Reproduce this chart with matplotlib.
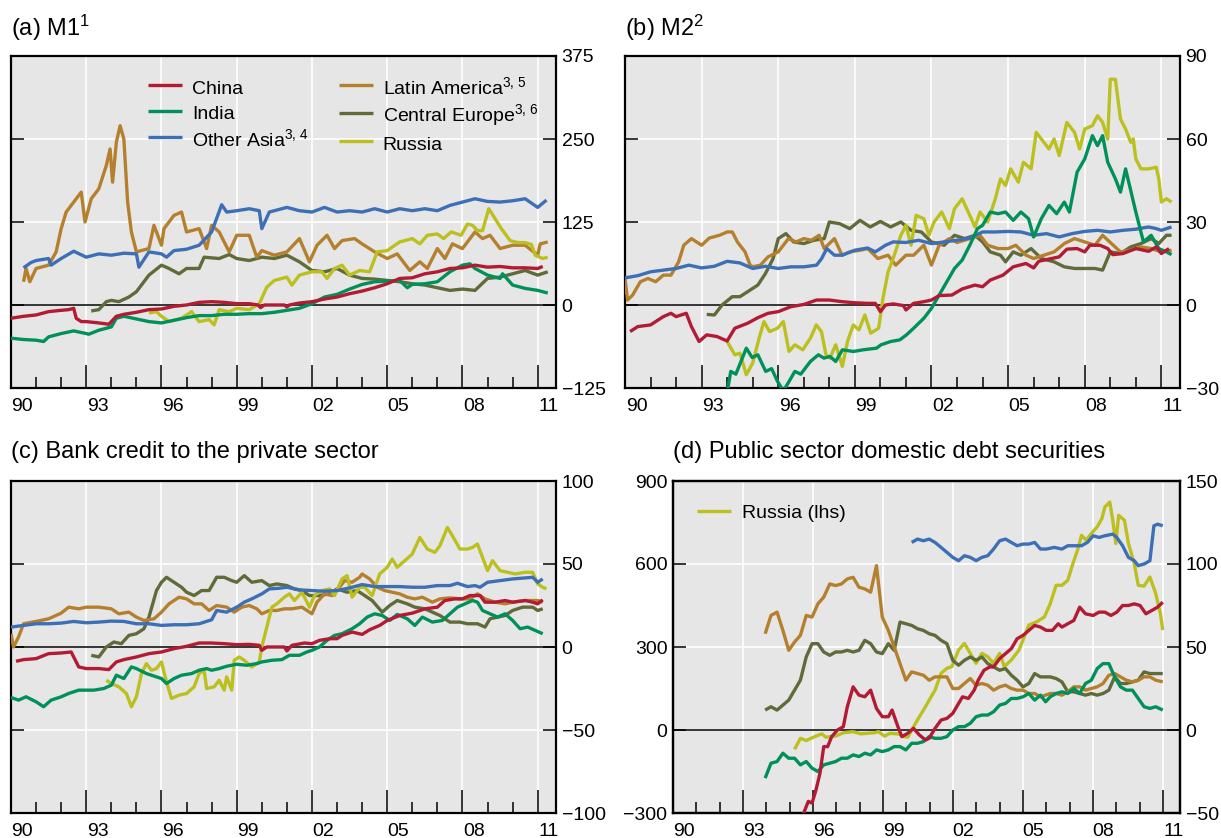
import matplotlib
matplotlib.use('Agg')
import matplotlib.pyplot as plt

plt.rcParams['font.family'] = ['Liberation Sans', 'DejaVu Sans']
plt.rcParams['mathtext.fontset'] = 'custom'
plt.rcParams['mathtext.rm'] = 'Liberation Sans'
plt.rcParams['mathtext.it'] = 'Liberation Sans:italic'
plt.rcParams['mathtext.bf'] = 'Liberation Sans:bold'

# ---------------- axis labels ----------------
x_labels = ['90', '93', '96', '99', '02', '05', '08', '11']
label_years = [1990, 1993, 1996, 1999, 2002, 2005, 2008, 2011]
major_years = [1993, 1996, 1999, 2002, 2005, 2008, 2011]
minor_years = list(range(1991, 2012))

# ---------------- (a) M1 ----------------
a_china_x = [1990.0,1990.5,1991.0,1991.5,1992.0,1992.3,1992.5,1992.6,1992.8,1993.0,
             1993.5,1993.9,1994.2,1994.5,1995.0,1995.5,1996.0,1996.5,1997.0,1997.5,
             1998.0,1998.5,1999.0,1999.5,1999.85,1999.95,2000.1,2000.5,2000.9,2001.0,
             2001.1,2001.5,2002.0,2002.5,2003.0,2003.5,2004.0,2004.5,2005.0,2005.5,
             2006.0,2006.5,2007.0,2007.5,2008.0,2008.5,2009.0,2009.5,2010.0,2010.5,
             2011.0,2011.2]
a_china_y = [-20,-17,-15,-10,-8,-7,-5,-20,-25,-25,
             -27,-29,-17,-14,-11,-7,-6,-2,0,4,
             5,4,2,2,0,-4,0,0,0,-3,
             0,3,5,9,12,17,21,26,32,40,
             41,47,50,55,56,60,57,58,56,56,
             55,58]
a_india_x = [1990.0,1990.5,1991.0,1991.3,1991.5,1992.0,1992.5,1993.0,1993.1,1993.5,
             1994.0,1994.2,1994.5,1995.0,1995.5,1996.0,1996.5,1997.0,1997.5,1998.0,
             1998.5,1999.0,1999.5,2000.0,2000.5,2001.0,2001.5,2002.0,2002.5,2003.0,
             2003.5,2004.0,2004.5,2005.0,2005.5,2005.8,2006.0,2006.5,2007.0,2007.5,
             2008.0,2008.3,2008.5,2009.0,2009.5,2009.6,2010.0,2010.5,2011.0,2011.4]
a_india_y = [-50,-52,-53,-55,-48,-43,-39,-43,-44,-38,
             -33,-20,-17,-21,-25,-27,-23,-19,-16,-16,
             -14,-14,-13,-13,-11,-8,-5,2,12,16,
             24,31,35,36,37,26,31,32,35,50,
             60,62,55,45,40,47,30,25,22,18]
a_asia_x = [1990.5,1990.8,1991.0,1991.5,1991.6,1992.0,1992.5,1993.0,1993.5,1994.0,
            1994.5,1995.0,1995.1,1995.5,1996.0,1996.2,1996.5,1997.0,1997.5,1998.0,
            1998.4,1998.6,1999.0,1999.5,1999.9,2000.0,2000.3,2001.0,2001.5,2002.0,
            2002.5,2003.0,2003.5,2004.0,2004.5,2005.0,2005.5,2006.0,2006.5,2007.0,
            2007.5,2008.0,2008.5,2009.0,2009.5,2010.0,2010.5,2011.0,2011.35]
a_asia_y = [56,64,67,70,60,70,81,72,77,75,
            78,77,57,80,77,72,82,84,90,110,
            151,140,142,145,142,115,140,147,142,140,
            147,140,142,140,145,140,145,142,145,142,
            150,155,160,156,155,157,160,147,158]
a_latam_x = [1990.5,1990.6,1990.75,1991.0,1991.5,1991.8,1992.0,1992.2,1992.5,1992.8,
             1992.95,1993.2,1993.5,1993.8,1993.95,1994.05,1994.2,1994.35,1994.5,1994.65,
             1994.8,1995.0,1995.5,1995.7,1996.0,1996.1,1996.5,1996.8,1997.0,1997.5,
             1997.8,1998.0,1998.3,1998.7,1999.0,1999.5,1999.8,2000.0,2000.5,2001.0,
             2001.5,2001.9,2002.2,2002.6,2002.9,2003.2,2003.7,2004.0,2004.5,2005.0,
             2005.4,2005.9,2006.3,2006.6,2007.0,2007.3,2007.6,2008.0,2008.5,2008.8,
             2009.1,2009.5,2010.0,2010.5,2011.0,2011.1,2011.4]
a_latam_y = [35,55,35,55,60,80,115,140,155,170,
             125,160,175,210,235,185,245,270,250,155,
             110,80,85,120,90,115,135,140,110,115,
             85,120,110,80,105,105,72,82,75,80,
             100,65,90,105,85,97,100,92,80,70,
             77,52,65,55,85,70,92,85,110,100,
             105,85,90,90,75,92,95]
a_ceur_x = [1993.2,1993.5,1993.8,1994.0,1994.3,1994.7,1995.0,1995.5,1996.0,1996.3,
            1996.7,1997.0,1997.5,1997.7,1998.3,1998.7,1999.0,1999.5,2000.0,2000.5,
            2001.0,2001.5,2002.0,2002.5,2003.0,2003.5,2004.0,2004.5,2005.0,2005.5,
            2006.0,2006.5,2007.0,2007.5,2008.0,2008.5,2009.0,2009.5,2010.0,2010.5,
            2011.0,2011.4]
a_ceur_y = [-9,-7,5,7,5,12,20,45,60,55,
            47,55,55,72,70,76,70,67,72,70,
            75,65,52,50,55,45,40,39,37,35,
            32,30,26,22,24,22,40,42,47,52,
            45,50]
a_russia_x = [1995.5,1995.8,1996.0,1996.3,1996.8,1997.2,1997.5,1997.9,1998.1,1998.3,
              1998.7,1999.0,1999.5,1999.9,2000.2,2000.5,2001.0,2001.2,2001.5,2002.0,
              2002.4,2002.6,2002.9,2003.2,2003.5,2003.9,2004.3,2004.6,2005.0,2005.5,
              2006.0,2006.3,2006.6,2007.0,2007.25,2007.55,2007.95,2008.2,2008.4,2008.6,
              2008.8,2009.05,2009.3,2009.55,2009.9,2010.2,2010.5,2010.75,2010.9,2011.2,
              2011.4]
a_russia_y = [-12,-10,-17,-25,-20,-10,-25,-22,-30,-7,
              -10,-5,-7,2,27,37,42,30,45,50,
              50,40,55,60,45,52,50,80,82,95,
              100,92,105,107,100,110,105,122,120,112,
              112,145,130,115,97,94,94,91,75,70,
              72]

# ---------------- (b) M2 ----------------
b_china_x = [1990.2,1990.5,1991.0,1991.5,1991.8,1992.0,1992.4,1992.6,1992.9,1993.2,
             1993.6,1994.0,1994.3,1994.8,1995.2,1995.6,1996.0,1996.5,1997.0,1997.5,
             1998.0,1998.5,1999.0,1999.5,1999.8,2000.0,2000.2,2000.5,2000.9,2001.0,
             2001.3,2001.7,2002.0,2002.3,2002.8,2003.2,2003.7,2004.0,2004.3,2004.8,
             2005.2,2005.7,2006.0,2006.2,2006.7,2007.0,2007.3,2007.7,2008.0,2008.2,
             2008.6,2008.9,2009.1,2009.5,2010.0,2010.5,2010.8,2011.0,2011.3]
b_china_y = [-9.6,-7.8,-7.2,-4.2,-3,-4.2,-3,-7.8,-13.2,-10.8,
             -11.4,-13,-8.4,-6.6,-4.6,-3,-2.4,-0.6,0.2,1.8,
             1.8,1.2,0.8,0.6,0.6,-2.4,0,0.4,-0.2,-1.8,
             0.6,1.2,1.8,3.4,3.6,5.8,7.2,6.6,9,10.8,
             13.8,15,13.4,15.8,16.8,17.4,20.2,20.4,19.2,21.6,
             21.6,20.4,18.2,18.6,20.4,19.4,21,18.6,20.4]
b_india_x = [1993.95,1994.03,1994.14,1994.34,1994.75,1994.98,1995.2,1995.51,1995.74,1995.97,
             1996.2,1996.35,1996.65,1996.88,1997.26,1997.57,1997.79,1998.02,1998.25,1998.51,
             1998.94,1999.32,1999.85,2000.02,2000.4,2000.76,2001.02,2001.3,2001.7,2002.0,
             2002.3,2002.6,2002.9,2003.2,2003.5,2003.8,2004.0,2004.3,2004.6,2004.9,
             2005.2,2005.5,2005.8,2006.0,2006.3,2006.6,2006.9,2007.2,2007.4,2007.7,
             2008.0,2008.3,2008.5,2008.7,2008.9,2009.2,2009.4,2009.6,2010.0,2010.3,
             2010.6,2010.9,2011.2,2011.4]
b_india_y = [-34,-30,-24,-25,-15.6,-19,-18,-24,-23,-27.6,
             -31,-28.8,-24,-25,-20.4,-18,-19.2,-18.6,-20.4,-16.2,
             -16.8,-16.2,-15.6,-14.4,-13.2,-12.6,-10.8,-8.4,-4.8,-1.2,
             3.6,8.4,13.2,16.2,21.6,27.6,28.8,33.6,33,33.6,
             30.6,33.6,31.2,24.6,31.2,36,33,37.2,33.6,48,
             52.8,61.2,57.6,61.2,51.6,45.6,40.8,49.2,33.6,22.8,
             25.2,20.4,19.2,18.2]
b_asia_x = [1990.0,1990.5,1991.0,1991.5,1992.0,1992.5,1993.0,1993.5,1994.0,1994.5,
            1995.0,1995.5,1996.0,1996.5,1997.0,1997.5,1997.7,1997.9,1998.2,1998.5,
            1999.0,1999.5,1999.8,2000.2,2000.5,2001.0,2001.5,2002.0,2002.5,2003.0,
            2003.5,2004.0,2004.5,2005.0,2005.5,2006.0,2006.5,2007.0,2007.5,2008.0,
            2008.5,2009.0,2009.5,2010.0,2010.5,2010.8,2011.0,2011.4]
b_asia_y = [9.8,10.6,12,12.6,13.2,14.4,13.4,14,15.8,15.2,
            13.2,14,13.2,13.8,13.8,14.4,16.8,20.4,18,18,
            19.8,20.6,19.2,21.6,22.8,22.6,23.4,22.2,22.8,23.4,
            24.2,26.4,26.4,26.6,26.4,25.2,25.8,24.6,25.8,26.6,
            27,26.4,27,27.4,28.2,27.6,27,28.2]
b_latam_x = [1990.0,1990.1,1990.3,1990.6,1990.9,1991.2,1991.5,1991.8,1992.1,1992.3,
             1992.6,1993.0,1993.3,1993.7,1994.0,1994.2,1994.4,1994.7,1994.9,1995.0,
             1995.3,1995.6,1996.0,1996.4,1996.7,1997.0,1997.3,1997.6,1997.8,1998.2,
             1998.5,1998.8,1999.2,1999.5,1999.9,2000.3,2000.6,2001.0,2001.3,2001.7,
             2002.0,2002.3,2002.7,2003.0,2003.5,2003.9,2004.2,2004.6,2005.0,2005.3,
             2005.7,2006.0,2006.4,2006.8,2007.2,2007.6,2008.0,2008.4,2008.7,2009.0,
             2009.4,2009.8,2010.2,2010.6,2011.0,2011.4]
b_latam_y = [9.6,1.8,3.6,8.4,9.6,8.4,10.8,10.8,15.6,21.6,
             24,21.6,24.2,25.2,26.4,26.4,22.8,19.2,14.4,13.8,
             14.4,17.4,19.2,24,22.8,24,23.4,25.2,20.4,24,
             18,19.2,19.8,20.4,16.8,18,14.4,18,18,21.6,
             14.4,21.6,24,22.6,24,25.2,21.6,20.4,20.4,21.6,
             18,16.8,18,19.2,22.2,24,22.8,21.6,25.2,22.6,
             19.2,19.8,21,20.4,19.2,19.8]
b_ceur_x = [1993.2,1993.5,1993.8,1994.2,1994.5,1994.8,1995.2,1995.5,1995.8,1996.0,
            1996.3,1996.6,1997.0,1997.4,1997.8,1998.0,1998.4,1998.8,1999.2,1999.6,
            2000.0,2000.4,2000.8,2001.2,2001.6,2002.0,2002.5,2002.9,2003.3,2003.7,
            2004.0,2004.3,2004.7,2004.9,2005.2,2005.5,2005.9,2006.3,2006.8,2007.2,
            2007.6,2008.0,2008.4,2008.7,2009.0,2009.4,2009.8,2010.2,2010.6,2010.9,
            2011.2,2011.4]
b_ceur_y = [-3.4,-3.6,0,3,3,4.8,7.2,11.4,16.8,24,
            25.8,22.8,22.2,23.4,24,30,29.4,27.6,30.6,28.2,
            30.2,28.2,30,27,26.4,22.8,21.6,25.2,24,25.2,
            22.8,19.2,18,15.6,19.2,18,20.4,16.8,15.6,13.8,
            13.2,13.2,13.2,12.6,19.2,18.6,21,22.2,24,22.2,
            25.2,25.2]
b_russia_x = [1994.0,1994.3,1994.5,1994.75,1995.0,1995.25,1995.44,1995.66,1995.97,1996.2,
              1996.42,1996.65,1996.96,1997.26,1997.49,1997.69,1997.87,1998.02,1998.25,1998.51,
              1998.71,1998.94,1999.16,1999.39,1999.62,1999.93,2000.1,2000.3,2000.5,2000.8,
              2001.0,2001.2,2001.4,2001.7,2001.9,2002.1,2002.4,2002.7,2002.9,2003.2,
              2003.5,2003.7,2003.9,2004.2,2004.5,2004.7,2004.9,2005.1,2005.4,2005.6,
              2005.9,2006.1,2006.3,2006.6,2006.8,2007.0,2007.3,2007.6,2007.8,2008.0,
              2008.3,2008.5,2008.7,2008.9,2009.0,2009.2,2009.4,2009.6,2009.8,2009.9,
              2010.0,2010.2,2010.5,2010.8,2010.9,2011.0,2011.2,2011.4]
b_russia_y = [-13.2,-18,-17.4,-25.2,-21,-12,-6,-9.6,-8.4,-6,
              -16.8,-14.4,-16.2,-12,-7.2,-9.6,-18,-19.2,-14.4,-22.2,
              -13.2,-7.2,-9,-3.6,-10.2,-8.4,2.4,12,16.8,25.2,
              28.8,21.6,32.4,31.2,25.2,30,33.6,27.6,34.8,38.4,
              32.4,28.2,33.6,30,38.4,45.6,43.2,49.2,44.4,51.6,
              49.2,62.4,60,56.4,60,54,66,62.4,56.4,63.6,
              64.8,68.4,66,60,81.6,81.6,67.2,63.6,58.8,60,
              52.8,49.2,49.2,49.8,45.6,37.2,38.4,37.2]

# ---------------- (c) Bank credit ----------------
c_china_x = [1990.2,1990.5,1991.0,1991.5,1992.0,1992.4,1992.7,1993.0,1993.5,1993.9,
             1994.2,1994.5,1995.0,1995.5,1996.0,1996.5,1997.0,1997.5,1998.0,1998.5,
             1999.0,1999.5,1999.9,2000.0,2000.2,2000.5,2000.9,2001.0,2001.2,2001.7,
             2002.0,2002.3,2002.7,2003.0,2003.2,2003.6,2004.0,2004.3,2004.7,2005.0,
             2005.5,2006.0,2006.5,2007.0,2007.3,2007.7,2008.0,2008.3,2008.7,2008.9,
             2009.3,2009.7,2010.0,2010.5,2010.8,2011.0,2011.2]
c_china_y = [-8.6,-7.6,-7,-4,-3.6,-3,-12,-13,-13,-13.6,
             -9,-7.6,-6,-4,-3,-1,0.4,2.4,2.4,2,
             1.4,1.6,1,-2,0,0,0,-2.4,1,2.4,
             2,4,5,5,7,9,7.6,10.4,13,16,
             19,20.4,23,24,28,29,29,31,31,27,
             27,28,27,28,27,26,28.4]
c_india_x = [1990.0,1990.3,1990.6,1991.0,1991.3,1991.6,1992.0,1992.3,1992.7,1993.0,
             1993.3,1993.7,1994.0,1994.2,1994.5,1994.8,1995.0,1995.4,1995.8,1996.0,
             1996.2,1996.5,1996.8,1997.2,1997.5,1997.8,1998.0,1998.3,1998.6,1999.0,
             1999.4,1999.8,2000.0,2000.4,2000.8,2001.1,2001.5,2001.8,2002.0,2002.3,
             2002.6,2002.9,2003.2,2003.6,2003.9,2004.2,2004.5,2004.8,2005.1,2005.4,
             2005.8,2006.1,2006.4,2006.8,2007.2,2007.5,2007.8,2008.1,2008.4,2008.6,
             2008.8,2009.1,2009.4,2009.7,2010.0,2010.3,2010.6,2010.9,2011.2]
c_india_y = [-30.4,-32,-30,-33,-36,-32,-30,-28,-26,-26,
             -26,-25,-23,-17,-19,-12,-13,-16,-18,-19,
             -22,-19,-17,-16,-14,-13,-14,-13,-11.6,-10.4,
             -11,-10,-9,-8,-7.6,-5,-5,-3,-2,0,
             4,7,8,11,14,18,20,19,16,19.6,
             17,13,18,15,16,20,24,26,28,27,
             22,20,18,20,16,11,12,10,8]
c_asia_x = [1990.0,1990.5,1991.0,1991.5,1992.0,1992.5,1993.0,1993.5,1994.0,1994.5,
            1995.0,1995.5,1996.0,1996.5,1997.0,1997.5,1998.0,1998.2,1998.6,1999.0,
            1999.3,1999.6,2000.0,2000.3,2000.7,2001.0,2001.5,2002.0,2002.5,2003.0,
            2003.5,2004.0,2004.5,2005.0,2005.5,2006.0,2006.5,2007.0,2007.5,2007.8,
            2008.2,2008.5,2008.7,2009.0,2009.5,2010.0,2010.5,2010.8,2011.0,2011.2]
c_asia_y = [12,13,14,14,14.4,15.4,14.6,15,15.6,15.4,
            14,14,13,13.4,13.4,14,16.4,22,21,24,
            27,29,32,35,35.4,36,34.4,34,33.6,34,
            35.6,37.6,36.4,36.4,36.4,36,36,37,37,38.4,
            36.4,37,36,39,40,41,41.6,42,39,41]
c_latam_x = [1990.0,1990.1,1990.3,1990.5,1991.0,1991.5,1992.0,1992.3,1992.7,1993.0,
             1993.5,1994.0,1994.3,1994.7,1995.0,1995.3,1995.7,1996.0,1996.3,1996.7,
             1997.0,1997.3,1997.6,1997.9,1998.2,1998.6,1998.9,1999.2,1999.5,1999.8,
             2000.0,2000.3,2000.6,2000.9,2001.2,2001.6,2002.0,2002.2,2002.5,2002.8,
             2003.0,2003.3,2003.6,2003.9,2004.0,2004.3,2004.6,2004.9,2005.2,2005.5,
             2005.8,2006.1,2006.4,2006.8,2007.1,2007.5,2007.9,2008.3,2008.6,2008.9,
             2009.3,2009.7,2010.0,2010.5,2011.0,2011.2]
c_latam_y = [8,0,6,14,15.4,17,20.4,24,23,24,
             24,23,20,21,18,16,17,21,26,30,
             29,26,26,22,25,24,21,24,25,23,
             20,22,22,23,23,24,20,27,32,31,
             34,40,39,42,44,41,36,34,33,32,
             30,29,30,27,29,29.6,29,29,32,29,
             27,26,27,28,28,27]
c_ceur_x = [1993.2,1993.5,1993.8,1994.1,1994.4,1994.7,1995.0,1995.3,1995.5,1995.8,
            1996.0,1996.2,1996.5,1996.8,1997.0,1997.3,1997.6,1997.9,1998.2,1998.5,
            1998.8,1999.0,1999.3,1999.6,2000.0,2000.3,2000.6,2001.0,2001.3,2001.6,
            2001.9,2002.3,2002.7,2003.0,2003.4,2003.8,2004.1,2004.4,2004.8,2005.1,
            2005.4,2005.8,2006.1,2006.5,2006.8,2007.1,2007.5,2007.9,2008.2,2008.6,
            2008.9,2009.1,2009.4,2009.7,2010.0,2010.4,2010.8,2011.0,2011.2]
c_ceur_y = [-5,-6,0,3,2,7,8,11,18,34,
            39,42,39,36,33,31,34,34,42,42,
            40,39,43,39,40,37,38,37,35,34,
            31,31,32,35,33,34,31,28,21,25,
            28,26,24,23,21,19,15,15,14,14,
            12,17,18,19,22,24,24,22,23]
c_russia_x = [1993.8,1994.0,1994.3,1994.6,1994.8,1995.0,1995.2,1995.4,1995.6,1995.8,
              1996.0,1996.2,1996.4,1996.7,1997.0,1997.3,1997.5,1997.7,1997.8,1998.1,
              1998.3,1998.5,1998.6,1998.8,1998.9,1999.1,1999.3,1999.6,1999.9,2000.0,
              2000.2,2000.4,2000.6,2000.9,2001.1,2001.3,2001.6,2001.9,2002.1,2002.4,
              2002.7,2002.9,2003.2,2003.4,2003.6,2003.9,2004.1,2004.4,2004.7,2005.0,
              2005.2,2005.4,2005.7,2006.0,2006.3,2006.6,2006.9,2007.1,2007.4,2007.6,
              2007.9,2008.2,2008.4,2008.6,2008.8,2009.0,2009.2,2009.5,2009.8,2010.1,
              2010.5,2010.8,2011.0,2011.2,2011.35]
c_russia_y = [-20,-22,-24,-28,-36,-30,-16,-10,-14,-13,
              -9,-21,-31,-29,-28,-24,-16,-14,-25,-24,
              -20,-26,-18,-26,-8,-6,-8,-12,-9,0,
              12,24,26,30,32,28,33,24,31,34,
              35,31,41,43,30,36,36,31,44,48,
              53,48,52,56,66,59,57,61,72,67,
              59,59,60,62,54,46,52,46,45,44,
              45,45,38,36,35]

# ---------------- (d) Public sector domestic debt securities ----------------
d_russia_x = [1995.21,1995.46,1995.71,1996.13,1996.38,1996.55,1996.97,1997.30,1997.72,1998.05,
              1998.31,1998.64,1998.81,1999.06,1999.31,1999.64,1999.90,2000.06,2000.31,2000.56,
              2000.82,2000.98,2001.23,2001.49,2001.74,2001.95,2002.24,2002.49,2002.74,2002.99,
              2003.24,2003.49,2003.74,2004.0,2004.2,2004.5,2004.83,2005.0,2005.25,2005.59,
              2005.92,2006.17,2006.42,2006.67,2006.92,2007.14,2007.34,2007.51,2007.71,2007.93,
              2008.18,2008.38,2008.51,2008.72,2008.85,2008.98,2009.10,2009.35,2009.52,2009.77,
              2009.94,2010.19,2010.44,2010.69,2010.89,2010.99]
d_russia_y = [-70,-30,-38,-22,-14,-26,-22,-10,-6,-14,
              -12,-10,-6,-22,-12,-14,-24,-26,12,48,
              84,108,144,205,223,229,289,313,277,241,
              277,265,241,277,229,253,289,325,379,391,
              409,457,523,523,541,602,650,704,686,710,
              734,764,806,824,758,674,776,758,674,602,
              523,520,553,493,421,361]
d_asia_x = [2000.23,2000.48,2000.73,2000.98,2001.23,2001.49,2001.74,2001.99,2002.24,
            2002.49,2002.74,2002.99,2003.24,2003.49,2003.74,2004.0,2004.25,2004.5,2004.75,
            2005.0,2005.25,2005.5,2005.75,2006.0,2006.34,2006.67,2006.92,2007.18,2007.51,
            2007.76,2008.01,2008.26,2008.51,2008.85,2009.02,2009.27,2009.52,2009.77,2009.94,
            2010.19,2010.44,2010.61,2010.77,2010.99]
d_asia_y = [113,115,114,115,113,110,107,104,102,
            105,104,102,104,105,109,114,115,113,111,
            112,112,113,109,109,110,109,111,111,111,
            113,117,116,117,118,116,111,104,102,99,
            100,102,123,124,123]
d_china_x = [1995.55,1995.63,1995.80,1995.96,1996.13,1996.30,1996.46,1996.63,1996.80,1997.05,1997.30,
             1997.47,1997.72,1997.97,1998.22,1998.47,1998.72,1998.97,1999.23,1999.39,1999.64,
             1999.81,2000.06,2000.31,2000.56,2000.82,2000.98,2001.23,2001.49,2001.74,2001.99,
             2002.24,2002.41,2002.66,2002.91,2003.08,2003.33,2003.58,2003.74,2004.0,2004.25,
             2004.5,2004.75,2005.0,2005.25,2005.5,2005.75,2006.0,2006.26,2006.51,2006.67,
             2006.92,2007.18,2007.43,2007.68,2008.01,2008.26,2008.51,2008.77,2009.02,2009.27,
             2009.52,2009.77,2010.02,2010.27,2010.52,2010.77,2010.99]
d_china_y = [-53,-49,-43,-44,-36,-26,-10,-10,-4,0,2,
             14,26,21,20,24,13,8,8,12,2,
             -4,-2,1,-3,-6,-5,1,6,7,10,
             16,20,19,24,30,36,38,38,43,46,
             49,55,57,60,63,62,60,60,64,62,
             64,66,74,70,69,71,71,69,71,75,
             75,76,75,70,72,74,77]
d_quarter_x = [1993.95,1994.20,1994.46,1994.71,1994.96,1995.21,1995.46,1995.71,1995.96,1996.21,
               1996.46,1996.72,1996.97,1997.22,1997.47,1997.72,1997.97,1998.22,1998.47,1998.72,
               1998.97,1999.23,1999.48,1999.73,1999.98,2000.23,2000.48,2000.73,2000.98,2001.23,
               2001.49,2001.74,2001.99,2002.24,2002.49,2002.74,2002.99,2003.24,2003.49,2003.74,
               2004.0,2004.25,2004.5,2004.75,2005.0,2005.25,2005.5,2005.75,2005.97,2006.17,
               2006.42,2006.67,2006.92,2007.18,2007.43,2007.68,2007.93,2008.18,2008.43,2008.68,
               2008.93,2009.18,2009.43,2009.69,2009.94,2010.19,2010.44,2010.69,2010.99]
d_india_y = [-29,-20,-19,-14,-17,-17,-21,-19,-23,-25,
             -21,-20,-19,-17,-17,-15,-16,-14,-15,-12,
             -13,-12,-10,-10,-12,-8,-8,-7,-4,-5,
             -5,-4,0,2,2,4,8,9,9,11,
             15,16,19,19,20,22,18,21,17,20,
             22,23,22,25,22,28,30,37,40,40,
             32,26,24,24,19,14,13,14,12]
d_latam_y = [58,69,71,60,48,53,57,69,68,76,
             80,88,87,88,91,92,86,85,83,99,
             68,60,50,40,30,35,34,33,30,32,
             32,32,25,25,28,31,27,28,27,24,
             26,27,25,24,24,22,22,20,21,22,
             22,21,23,26,26,24,25,26,28,33,
             34,32,30,29,30,32,32,30,29]
d_ceur_y = [12,14,12,15,18,24,30,44,52,52,
            47,45,47,47,48,47,48,54,52,47,
            46,52,48,65,64,63,61,60,58,57,
            54,52,42,39,42,44,42,44,40,38,
            36,37,33,30,26,28,34,32,32,32,
            31,29,23,23,22,21,22,21,22,24,
            32,28,28,29,30,35,34,34,34]

# ---------------- styling ----------------
C_CHINA = '#b31b34'
C_INDIA = '#00915b'
C_ASIA = '#3d6fb6'
C_LATAM = '#b5802e'
C_CEUR = '#5f6b39'
C_RUSSIA = '#bcc01e'
BG = '#e6e6e6'
LW = 2.4
FS = 14
FS_TITLE = 17

W, H = 1221, 838
fig = plt.figure(figsize=(W / 100, H / 100), dpi=100)


def px_axes(l, t, r, b):
    return fig.add_axes([l / W, 1 - b / H, (r - l) / W, (b - t) / H])


def style(ax, ylim, yticks, label_side='right'):
    ax.set_xlim(1990.0, 2011.73)
    ax.set_ylim(*ylim)
    ax.set_facecolor(BG)
    ax.set_yticks(yticks)
    ax.set_xticks(major_years)
    ax.set_xticks(minor_years, minor=True)
    ax.tick_params(axis='x', which='major', direction='in', length=16.5, width=1.1,
                   labelbottom=False, top=False, color='black')
    ax.tick_params(axis='x', which='minor', direction='in', length=8, width=1.1,
                   top=False, color='black')
    if label_side == 'right':
        ax.tick_params(axis='y', direction='in', length=9.5, width=1.1, left=True, right=True,
                       labelleft=False, labelright=True, labelsize=FS, pad=4)
    else:
        ax.tick_params(axis='y', direction='in', length=9.5, width=1.1, left=True, right=False,
                       labelleft=True, labelright=False, labelsize=FS, pad=4)
    ax.grid(True, which='major', color='white', lw=1.2)
    ax.set_axisbelow(True)
    for s in ax.spines.values():
        s.set_linewidth(1.6)
    ax.axhline(0, color='black', lw=1.1, zorder=1.5)
    sec = ax.secondary_xaxis('bottom')
    sec.set_xticks([y + 0.45 for y in label_years], labels=x_labels)
    sec.tick_params(axis='x', length=0, labelsize=FS, pad=7)
    sec.spines['bottom'].set_visible(False)


def draw(ax, series):
    out = []
    for x, y, c in series:
        ln, = ax.plot(x, y, color=c, lw=LW, solid_joinstyle='round', solid_capstyle='butt', zorder=3)
        out.append(ln)
    return out


ax_a = px_axes(11, 56, 556, 388)
ax_b = px_axes(625, 56, 1180, 388)
ax_c = px_axes(11, 481, 556, 813)
ax_d = px_axes(673, 481, 1180, 813)

style(ax_a, (-125, 375), [-125, 0, 125, 250, 375])
style(ax_b, (-30, 90), [-30, 0, 30, 60, 90])
style(ax_c, (-100, 100), [-100, -50, 0, 50, 100])
style(ax_d, (-300, 900), [-300, 0, 300, 600, 900], label_side='left')

la = draw(ax_a, [(a_ceur_x, a_ceur_y, C_CEUR), (a_latam_x, a_latam_y, C_LATAM),
                 (a_russia_x, a_russia_y, C_RUSSIA), (a_asia_x, a_asia_y, C_ASIA),
                 (a_india_x, a_india_y, C_INDIA), (a_china_x, a_china_y, C_CHINA)])
draw(ax_b, [(b_ceur_x, b_ceur_y, C_CEUR), (b_latam_x, b_latam_y, C_LATAM),
            (b_russia_x, b_russia_y, C_RUSSIA), (b_asia_x, b_asia_y, C_ASIA),
            (b_india_x, b_india_y, C_INDIA), (b_china_x, b_china_y, C_CHINA)])
draw(ax_c, [(c_ceur_x, c_ceur_y, C_CEUR), (c_latam_x, c_latam_y, C_LATAM),
            (c_russia_x, c_russia_y, C_RUSSIA), (c_asia_x, c_asia_y, C_ASIA),
            (c_india_x, c_india_y, C_INDIA), (c_china_x, c_china_y, C_CHINA)])

ld = draw(ax_d, [(d_russia_x, d_russia_y, C_RUSSIA)])
ax_d2 = ax_d.twinx()
ax_d2.set_ylim(-50, 150)
ax_d2.set_yticks([-50, 0, 50, 100, 150])
ax_d2.tick_params(axis='y', direction='in', length=9.5, width=1.1, right=True, left=False,
                  labelright=True, labelsize=FS, pad=4)
for s in ax_d2.spines.values():
    s.set_linewidth(1.6)
draw(ax_d2, [(d_quarter_x, d_ceur_y, C_CEUR), (d_quarter_x, d_latam_y, C_LATAM),
             (d_asia_x, d_asia_y, C_ASIA), (d_quarter_x, d_india_y, C_INDIA),
             (d_china_x, d_china_y, C_CHINA)])

# legends
ceur_l, latam_l, russia_l, asia_l, india_l, china_l = la
ax_a.legend([china_l, india_l, asia_l, latam_l, ceur_l, russia_l],
            ['China', 'India', r'Other Asia$^{3,\,4}$', r'Latin America$^{3,\,5}$',
             r'Central Europe$^{3,\,6}$', 'Russia'],
            ncol=2, loc='upper left', bbox_to_anchor=(0.2514, 0.94), frameon=False,
            fontsize=FS, handlelength=1.75, handleheight=1.25, handletextpad=0.5,
            columnspacing=1.55, labelspacing=0.24, borderpad=0, borderaxespad=0)
ax_d2.legend(ld, ['Russia (lhs)'], loc='upper left', bbox_to_anchor=(0.0473, 0.93),
             frameon=False, fontsize=FS, handlelength=1.75, handletextpad=0.55,
             borderpad=0, borderaxespad=0)

# titles
fig.text(11 / W, 1 - 36 / H, r'(a) M1$^{1}$', fontsize=FS_TITLE, va='baseline', ha='left')
fig.text(625 / W, 1 - 36 / H, r'(b) M2$^{2}$', fontsize=FS_TITLE, va='baseline', ha='left')
fig.text(11 / W, 1 - 458 / H, '(c) Bank credit to the private sector', fontsize=FS_TITLE,
         va='baseline', ha='left')
fig.text(673 / W, 1 - 458 / H, '(d) Public sector domestic debt securities', fontsize=FS_TITLE,
         va='baseline', ha='left')

fig.savefig('out.png', dpi=100)
